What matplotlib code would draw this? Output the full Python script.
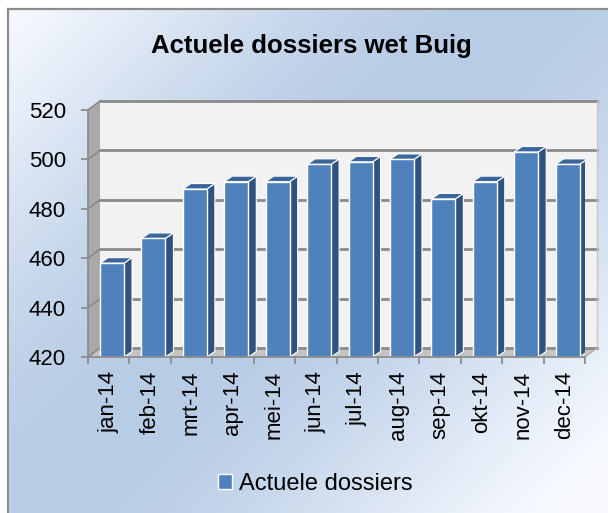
#!/usr/bin/env python3
import matplotlib
matplotlib.use('Agg')
import matplotlib.pyplot as plt
import numpy as np
from matplotlib.patches import Polygon
from matplotlib.lines import Line2D

plt.rcParams['font.family'] = ['Liberation Sans', 'DejaVu Sans']

months = ['jan-14', 'feb-14', 'mrt-14', 'apr-14', 'mei-14', 'jun-14',
          'jul-14', 'aug-14', 'sep-14', 'okt-14', 'nov-14', 'dec-14']
dossiers = [458, 468, 488, 491, 491, 498, 499, 500, 484, 491, 503, 498]
yticks = [420, 440, 460, 480, 500, 520]

W, H = 608, 513
BLUE = '#4f81bd'
SIDE = '#2f5281'
TOP = '#3b669c'
GRID = '#8a8a8a'

fig = plt.figure(figsize=(W / 100, H / 100), dpi=100)

# background gradient (white -> light blue -> white along the diagonal)
bg = fig.add_axes([0, 0, 1, 1], zorder=-10)
gx, gy = np.meshgrid(np.linspace(0, 1, 300), np.linspace(0, 1, 260))
s = 0.55 * gx + 0.45 * gy
w = np.clip(np.sin(np.pi * np.clip(s * 1.05, 0, 1)), 0, 1) ** 1.3
c0 = np.array([0.97, 0.98, 1.0])
c1 = np.array([0.72, 0.80, 0.90])
img = c0[None, None, :] * (1 - w[..., None]) + c1[None, None, :] * w[..., None]
bg.imshow(img, extent=[0, W, H, 0], aspect='auto')
bg.set_xlim(0, W)
bg.set_ylim(H, 0)
# white margin and frame of the chart area
bg.fill_between([0, W], 0, 9, color='white', zorder=2)
bg.fill_betweenx([0, H], 0, 8, color='white', zorder=2)
bg.plot([8, W], [9, 9], color='#8c8c8c', lw=1.6, zorder=3)
bg.plot([8, 8], [9, H], color='#8c8c8c', lw=1.6, zorder=3)
bg.axis('off')

# plot area (front plane)
left, right, top, bottom = 88, 585, 110, 357
ax = fig.add_axes([left / W, 1 - bottom / H, (right - left) / W, (bottom - top) / H])
ax.set_xlim(0, 12)
ax.set_ylim(420, 520)
ax.patch.set_alpha(0)

pxx = (right - left) / 12.0
pxy = (bottom - top) / 100.0
dxw, dyw = 12 / pxx, 9 / pxy      # depth of walls
dxb, dyb = 8 / pxx, 5.5 / pxy     # depth of bars

y0, y1 = 420, 520
# back wall
ax.add_patch(Polygon([(dxw, y0 + dyw), (12 + dxw, y0 + dyw), (12 + dxw, y1 + dyw), (dxw, y1 + dyw)],
                     closed=True, facecolor='#f2f2f2', edgecolor='none', clip_on=False, zorder=1))
# side wall
ax.add_patch(Polygon([(0, y0), (dxw, y0 + dyw), (dxw, y1 + dyw), (0, y1)],
                     closed=True, facecolor='#a9a9a9', edgecolor='none', clip_on=False, zorder=1))
# floor
ax.add_patch(Polygon([(0, y0), (12, y0), (12 + dxw, y0 + dyw), (dxw, y0 + dyw)],
                     closed=True, facecolor='#c4c4c4', edgecolor='none', clip_on=False, zorder=1))
for v in yticks:
    ax.plot([dxw, 12 + dxw], [v + dyw, v + dyw], color=GRID, lw=2, clip_on=False, zorder=2)
    ax.plot([0, dxw], [v, v + dyw], color=GRID, lw=1.2, clip_on=False, zorder=2)
ax.plot([12 + dxw, 12 + dxw], [y0 + dyw, y1 + dyw], color='#c8c8c8', lw=1, clip_on=False, zorder=2)
ax.plot([12, 12 + dxw], [y0, y0 + dyw], color='#b0b0b0', lw=1, clip_on=False, zorder=2)

# bars
xs = np.arange(len(months))
lefts = xs + 0.29
bw = 0.58
bars = ax.bar(lefts, np.array(dossiers) - 420, width=bw, bottom=420, align='edge',
              color=BLUE, edgecolor='white', linewidth=1.0, zorder=5, label='Actuele dossiers')
for l, v in zip(lefts, dossiers):
    r = l + bw
    ax.add_patch(Polygon([(r, y0), (r + dxb, y0 + dyb), (r + dxb, v + dyb), (r, v)],
                         closed=True, facecolor=SIDE, edgecolor='white', lw=0.8, zorder=4))
    ax.add_patch(Polygon([(l, v), (r, v), (r + dxb, v + dyb), (l + dxb, v + dyb)],
                         closed=True, facecolor=TOP, edgecolor='white', lw=0.8, zorder=4))

# axes
for sp in ['top', 'right']:
    ax.spines[sp].set_visible(False)
for sp in ['left', 'bottom']:
    ax.spines[sp].set_color('#8c8c8c')
    ax.spines[sp].set_linewidth(1.3)
    ax.spines[sp].set_zorder(6)
ax.set_yticks(yticks)
ax.set_yticklabels([str(v) for v in yticks])
ax.tick_params(axis='y', length=5, width=1.3, color='#8c8c8c', pad=11, labelsize=16)
ax.set_xticks(np.arange(13))
ax.set_xticklabels([])
ax.set_xticks(xs + 0.5, minor=True)
ax.set_xticklabels(months, minor=True, rotation=90, fontsize=16, va='top')
ax.tick_params(axis='x', which='major', length=5, width=1.3, color='#8c8c8c')
ax.tick_params(axis='x', which='minor', length=0, pad=10)

fig.text(311 / W, 1 - 53 / H, 'Actuele dossiers wet Buig', ha='center', va='baseline',
         fontsize=18.5, fontweight='bold')

handle = plt.Rectangle((0, 0), 1, 1, facecolor=BLUE, edgecolor='white', lw=1)
fig.legend([handle], ['Actuele dossiers'], loc='center', bbox_to_anchor=(0.519, 1 - 484 / H),
           frameon=False, fontsize=17, handlelength=0.6, handleheight=0.6, handletextpad=0.3)

fig.savefig('out.png', dpi=100)
plt.close(fig)
